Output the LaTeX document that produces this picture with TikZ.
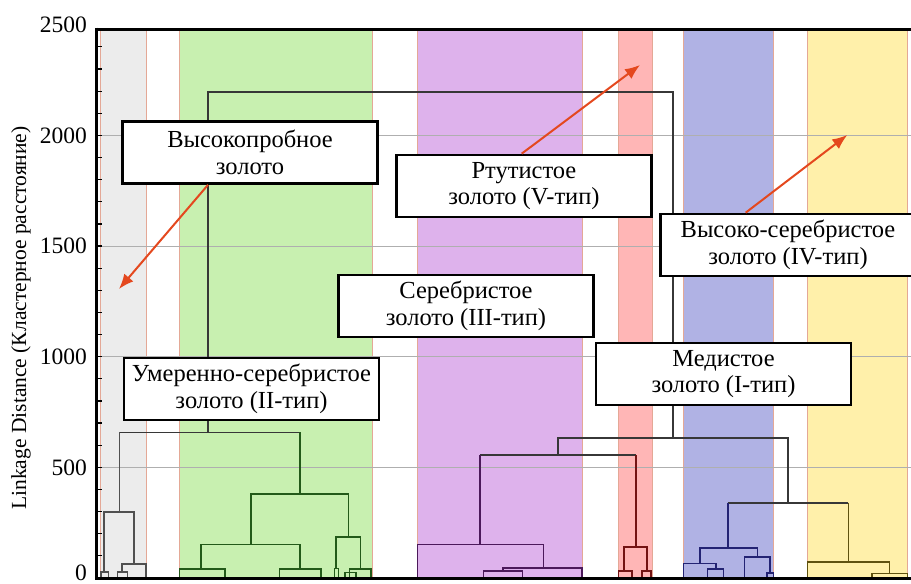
\documentclass[tikz,border=0pt]{standalone}
\usepackage{fontspec}
\setmainfont{Liberation Serif}
\usetikzlibrary{arrows.meta}
\definecolor{bgray}{RGB}{236,236,236}
\definecolor{bgreen}{RGB}{200,240,176}
\definecolor{bpurple}{RGB}{222,178,236}
\definecolor{bred}{RGB}{255,182,182}
\definecolor{bblue}{RGB}{176,178,228}
\definecolor{byellow}{RGB}{255,240,170}
\definecolor{bandedge}{RGB}{228,168,150}
\definecolor{arrc}{RGB}{228,72,30}
\definecolor{gridc}{RGB}{175,175,175}
\definecolor{lgray}{RGB}{80,80,80}
\definecolor{lgreen}{RGB}{35,90,25}
\definecolor{lpurple}{RGB}{75,25,90}
\definecolor{lred}{RGB}{115,20,20}
\definecolor{lblue}{RGB}{35,35,115}
\definecolor{lyellow}{RGB}{95,82,15}
\definecolor{ltop}{RGB}{55,55,55}
\begin{document}
\begin{tikzpicture}[x=1pt,y=-1pt,
  band/.style={draw=bandedge,line width=0.8pt},
  gridline/.style={draw=gridc,line width=0.7pt},
  dend/.style={line width=1.6pt,line join=miter},
  labelbox/.style={draw=black,line width=2.7pt,fill=white,minimum width=255pt,minimum height=62pt,inner sep=0pt,align=center,font=\fontsize{24.5}{26.7}\selectfont},
  pointer/.style={draw=arrc,line width=2pt,-{Latex[length=15pt,width=12pt]}},
  ticklabel/.style={anchor=east,inner sep=0pt,font=\fontsize{23.5}{26}\selectfont},
  axislabel/.style={rotate=90,inner sep=0pt,font=\fontsize{21.5}{24}\selectfont}
]
\useasboundingbox (0,0) rectangle (911,584);
\clip (0,0) rectangle (911,584);
% bands
\fill[band,fill=bgray]   (100,29) rectangle (146,578);
\fill[band,fill=bgreen]  (179,29) rectangle (372,578);
\fill[band,fill=bpurple] (417,29) rectangle (582,578);
\fill[band,fill=bred]    (618,29) rectangle (652,578);
\fill[band,fill=bblue]   (683,29) rectangle (773,578);
\fill[band,fill=byellow] (807,29) rectangle (907,578);
% grid
\foreach \v in {500,1000,1500,2000}{
  \draw[gridline] (96,{578-0.2213*\v}) -- (911,{578-0.2213*\v});
}
% top-level links
\draw[dend,ltop] (208,432.3) -- (208,92) -- (673,92) -- (673,438);
\draw[dend,ltop] (119.3,432.3) -- (300,432.3);
\draw[dend,ltop] (558,455) -- (558,438) -- (787.7,438) -- (787.7,502.7);
\draw[dend,ltop] (480,455) -- (636,455);
\draw[dend,ltop] (727.7,502.7) -- (848.3,502.7);
% gray cluster
\draw[dend,lgray] (119.3,432.3) -- (119.3,511.7);
\draw[dend,lgray] (104,571.7) -- (104,511.7) -- (134,511.7) -- (134,564);
\draw[dend,lgray] (100.7,578) -- (100.7,571.7) -- (108.3,571.7) -- (108.3,578);
\draw[dend,lgray] (122,571.7) -- (122,564) -- (145.7,564) -- (145.7,578);
\draw[dend,lgray] (117.3,578) -- (117.3,571.7) -- (127.3,571.7) -- (127.3,578);
% green cluster
\draw[dend,lgreen] (300,432.3) -- (300,494);
\draw[dend,lgreen] (250.7,544.3) -- (250.7,494) -- (348.3,494) -- (348.3,536.7);
\draw[dend,lgreen] (201,569) -- (201,544.3) -- (300,544.3) -- (300,569);
\draw[dend,lgreen] (179.3,578) -- (179.3,569) -- (225,569) -- (225,578);
\draw[dend,lgreen] (279.3,578) -- (279.3,569) -- (320.7,569) -- (320.7,578);
\draw[dend,lgreen] (336,568.3) -- (336,536.7) -- (360.3,536.7) -- (360.3,569);
\draw[dend,lgreen] (334.3,578) -- (334.3,568.3) -- (338.3,568.3) -- (338.3,578);
\draw[dend,lgreen] (349.3,578) -- (349.3,569) -- (371,569) -- (371,578);
\draw[dend,lgreen] (345,578) -- (345,572.3) -- (356,572.3) -- (356,578);
% purple cluster
\draw[dend,lpurple] (480,455) -- (480,544.3);
\draw[dend,lpurple] (417.3,578) -- (417.3,544.3) -- (543.3,544.3) -- (543.3,567.7);
\draw[dend,lpurple] (502.7,571) -- (502.7,567.7) -- (581.7,567.7) -- (581.7,578);
\draw[dend,lpurple] (483.3,578) -- (483.3,571) -- (522.3,571) -- (522.3,578);
% red cluster
\draw[dend,lred] (636,455) -- (636,546.7);
\draw[dend,lred] (624,571) -- (624,546.7) -- (646.7,546.7) -- (646.7,571);
\draw[dend,lred] (618.3,578) -- (618.3,571) -- (631.7,571) -- (631.7,578);
\draw[dend,lred] (641.7,578) -- (641.7,571) -- (650.7,571) -- (650.7,578);
% blue cluster
\draw[dend,lblue] (727.7,502.7) -- (727.7,547.7);
\draw[dend,lblue] (700,563.3) -- (700,547.7) -- (757.3,547.7) -- (757.3,556.7);
\draw[dend,lblue] (683.3,578) -- (683.3,563.3) -- (715.7,563.3) -- (715.7,569);
\draw[dend,lblue] (707.3,578) -- (707.3,569) -- (723.3,569) -- (723.3,578);
\draw[dend,lblue] (744.3,578) -- (744.3,556.7) -- (770,556.7) -- (770,572.7);
\draw[dend,lblue] (766.7,578) -- (766.7,572.7) -- (773.3,572.7) -- (773.3,578);
% yellow cluster
\draw[dend,lyellow] (848.3,502.7) -- (848.3,561.7);
\draw[dend,lyellow] (807.3,578) -- (807.3,561.7) -- (889.3,561.7) -- (889.3,573.3);
\draw[dend,lyellow] (871.7,578) -- (871.7,573.3) -- (907.3,573.3) -- (907.3,578);
% axes frame
\draw[line width=3pt] (96,29) -- (913,29);
\draw[line width=3pt] (96,578) -- (913,578);
\draw[line width=3pt] (96,27.5) -- (96,579.5);
\foreach \v in {100,200,...,2400}{
  \draw[line width=1.2pt] (96,{578-0.2213*\v}) -- (102,{578-0.2213*\v});
}
% tick labels
\node[ticklabel] (t2500) at (87,25) {2500};
\node[ticklabel] (t2000) at (87,{578-0.2213*2000}) {2000};
\node[ticklabel] (t1500) at (87,{578-0.2213*1500}) {1500};
\node[ticklabel] (t1000) at (87,{578-0.2213*1000}) {1000};
\node[ticklabel] (t500)  at (87,{578-0.2213*500}) {500};
\node[ticklabel] (t0)    at (87,573) {0};
\node[axislabel] (ylab) at (21,318) {Linkage Distance (Кластерное расстояние)};
% label boxes
\node[labelbox] (vys) at (250,152.5) {Высокопробное\\золото};
\node[labelbox] (rtut) at (524,186) {Ртутистое\\золото (V-тип)};
\node[labelbox] (vser) at (788,245) {Высоко-серебристое\\золото (IV-тип)};
\node[labelbox] (ser) at (466,306) {Серебристое\\золото (III-тип)};
\node[labelbox] (umer) at (251.5,389) {Умеренно-серебристое\\золото (II-тип)};
\node[labelbox] (med) at (723.5,374) {Медистое\\золото (I-тип)};
% arrow tips
\coordinate (tip1) at (119,289);
\coordinate (tip2) at (640,65);
\coordinate (tip3) at (847.3,135);
\draw[pointer] (vys.south -| 208,0) -- (tip1);
\draw[pointer] (rtut.north -| 521.7,0) -- (tip2);
\draw[pointer] (vser.north -| 745.7,0) -- (tip3);
\end{tikzpicture}
\end{document}
